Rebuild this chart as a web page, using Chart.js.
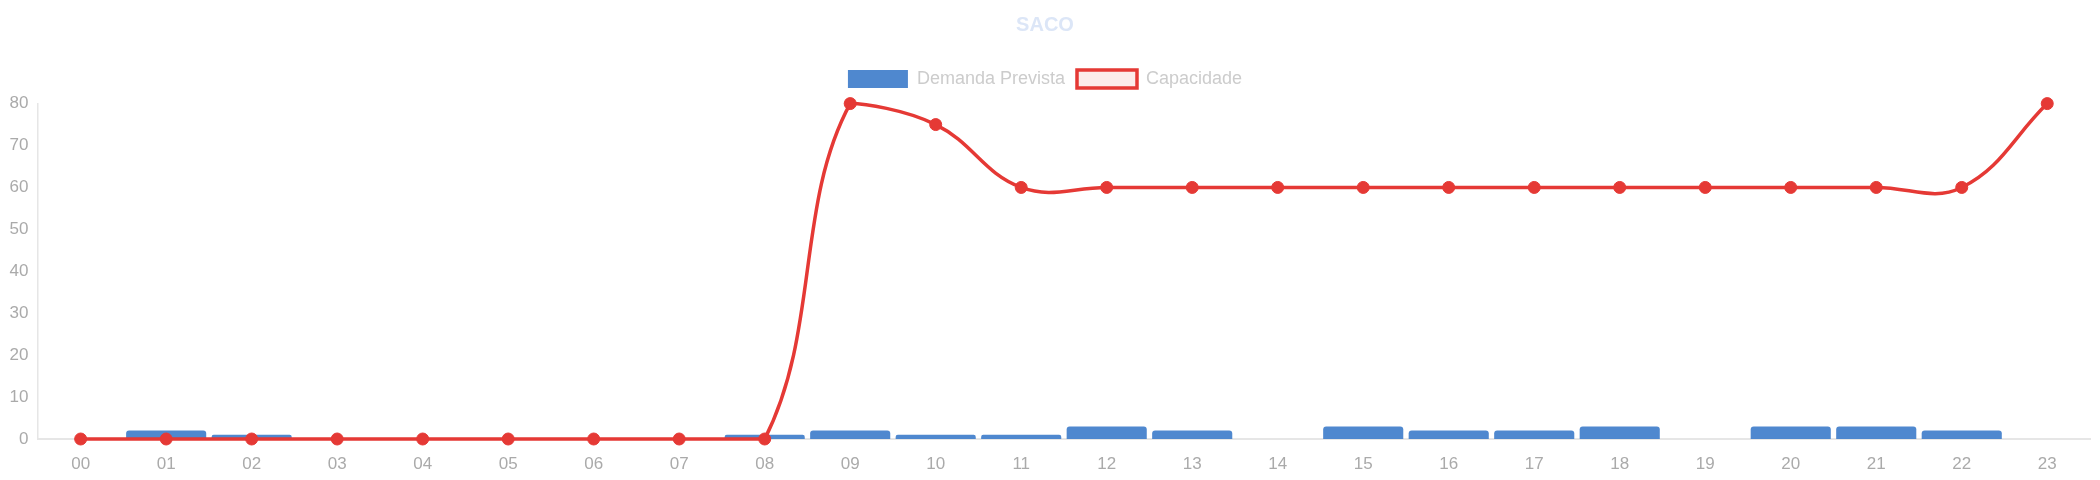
<!DOCTYPE html>
<html>
<head>
<meta charset="utf-8">
<script src="https://cdn.jsdelivr.net/npm/chart.js@4"></script>
<style>
html,body{margin:0;padding:0;background:#fff;}
#wrap{width:2100px;height:480px;position:relative;}
</style>
</head>
<body>
<div id="wrap"><canvas id="c"></canvas></div>
<script>
const categories = ["00","01","02","03","04","05","06","07","08","09","10","11","12","13","14","15","16","17","18","19","20","21","22","23"];
const demandaPrevista = [0,2,1,0,0,0,0,0,1,2,1,1,3,2,0,3,2,2,3,0,3,3,2,0];
const capacidade = [0,0,0,0,0,0,0,0,0,80,75,60,60,60,60,60,60,60,60,60,60,60,60,80];
const yTicks = [0,10,20,30,40,50,60,70,80];

Chart.defaults.font.family = "'Liberation Sans', Arial, sans-serif";
const legendGap = {
  id: 'legendGap',
  beforeInit(chart) {
    const orig = chart.legend.fit;
    chart.legend.fit = function () { orig.call(this); this.height += 5.6; };
  }
};
new Chart(document.getElementById('c'), {
  data: {
    labels: categories,
    datasets: [
      {
        type: 'line',
        label: 'Capacidade',
        data: capacidade,
        order: 0,
        borderColor: '#e53935',
        backgroundColor: 'rgba(229,57,53,0.1)',
        borderWidth: 3.5,
        pointRadius: 6,
        pointBackgroundColor: '#e53935',
        pointBorderColor: '#e53935',
        pointBorderWidth: 1,
        tension: 0.4,
        fill: false,
        clip: false
      },
      {
        type: 'bar',
        label: 'Demanda Prevista',
        data: demandaPrevista,
        order: 1,
        backgroundColor: 'rgba(70,130,204,0.95)',
        borderWidth: 0,
        borderRadius: 3,
        barPercentage: 0.937,
        categoryPercentage: 1.0
      }
    ]
  },
  plugins: [legendGap],
  options: {
    responsive: true,
    maintainAspectRatio: false,
    animation: false,
    layout: { padding: { left: 0, right: 10, top: 0, bottom: -9.4 } },
    plugins: {
      title: {
        display: true,
        text: 'SACO',
        color: '#dce6f7',
        font: { size: 20, weight: 'bold' },
        padding: { top: 13.8, bottom: 20.2 }
      },
      legend: {
        display: true,
        reverse: true,
        labels: {
          color: '#cccccc',
          boxWidth: 60,
          boxHeight: 18,
          font: { size: 18 },
          padding: 12
        }
      },
      tooltip: { enabled: false }
    },
    scales: {
      x: {
        grid: { display: false, drawTicks: false },
        border: { display: true, color: '#e6e6e6', width: 2 },
        ticks: { color: '#aaaaaa', font: { size: 17 }, padding: 15 }
      },
      y: {
        min: 0,
        max: 80,
        afterBuildTicks: (axis) => { axis.ticks = yTicks.map(v => ({ value: v })); },
        grid: { display: false, drawTicks: false },
        border: { display: true, color: '#e6e6e6', width: 1.5 },
        ticks: { color: '#aaaaaa', font: { size: 17 }, padding: 9.5 }
      }
    }
  }
});
</script>
</body>
</html>
